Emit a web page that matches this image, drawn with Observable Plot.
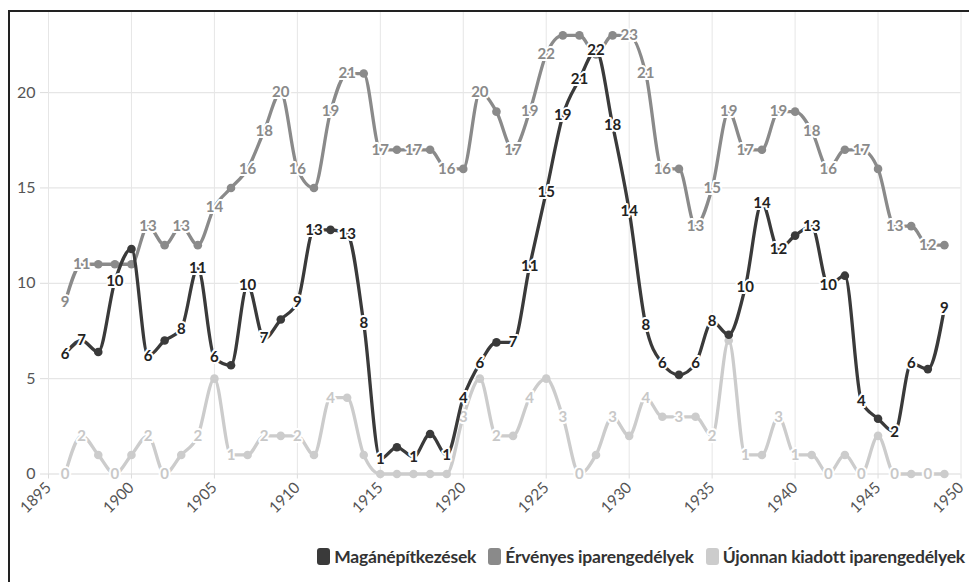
<!DOCTYPE html>
<html>
<head>
<meta charset="utf-8">
<script src="https://cdn.jsdelivr.net/npm/d3@7"></script>
<script src="https://cdn.jsdelivr.net/npm/@observablehq/plot@0.6"></script>
<style>
  html, body { margin: 0; padding: 0; background: #fff; }
  body { width: 969px; height: 582px; position: relative; overflow: hidden; font-family: Lato, "Noto Sans", sans-serif; }
  #frame { position: absolute; left: 8px; top: 10px; width: 980px; height: 600px; border-left: 2px solid #222; border-top: 2px solid #222; pointer-events: none; }
  #chart { position: absolute; left: 0; top: 0; }
  #legend { position: absolute; right: 4px; top: 546px; display: flex; gap: 12px; align-items: center; font-weight: 700; font-size: 17.5px; color: #333; white-space: nowrap; letter-spacing: -0.2px; }
  #legend .item { display: flex; align-items: center; gap: 4px; }
  #legend .sw { width: 13px; height: 17px; border-radius: 3px; display: inline-block; }
</style>
</head>
<body>
<div id="chart"></div>
<div id="frame"></div>
<div id="legend"></div>
<script>
const years = [1896,1897,1898,1899,1900,1901,1902,1903,1904,1905,1906,1907,1908,1909,1910,1911,1912,1913,1914,1915,1916,1917,1918,1919,1920,1921,1922,1923,1924,1925,1926,1927,1928,1929,1930,1931,1932,1933,1934,1935,1936,1937,1938,1939,1940,1941,1942,1943,1944,1945,1946,1947,1948,1949];

const seriesNames = ["Magánépítkezések", "Érvényes iparengedélyek", "Újonnan kiadott iparengedélyek"];
const seriesColors = ["#3a3a3a", "#8a8a8a", "#cccccc"];
const labelColors = ["#222222", "#8a8a8a", "#c8c8c8"];

const maganValues = [6.3,7.0,6.4,10.1,11.8,6.2,7.0,7.6,10.8,6.1,5.7,9.9,7.1,8.1,9.0,12.8,12.8,12.6,7.9,0.8,1.4,0.9,2.1,1.0,4.0,5.8,6.9,6.9,10.9,14.8,18.8,20.7,22.2,18.3,13.8,7.8,5.8,5.2,5.8,8.0,7.3,9.8,14.2,11.8,12.5,13.0,9.9,10.4,3.8,2.9,2.2,5.8,5.5,8.7];
const ervenyesValues = [9,11,11,11,11,13,12,13,12,14,15,16,18,20,16,15,19,21,21,17,17,17,17,16,16,20,19,17,19,22,23,23,22,23,23,21,16,16,13,15,19,17,17,19,19,18,16,17,17,16,13,13,12,12];
const ujonnanValues = [0,2,1,0,1,2,0,1,2,5,1,1,2,2,2,1,4,4,1,0,0,0,0,0,3,5,2,2,4,5,3,0,1,3,2,4,3,3,3,2,7,1,1,3,1,1,0,1,0,2,0,0,0,0];

// years whose value is written as a label (the others show a dot)
const maganLabelled = [1896,1897,1899,1901,1903,1904,1905,1907,1908,1910,1911,1913,1914,1915,1917,1919,1920,1921,1923,1924,1925,1926,1927,1928,1929,1930,1931,1932,1934,1935,1937,1938,1939,1941,1942,1944,1946,1947,1949];
const ervenyesLabelled = [1896,1897,1901,1903,1905,1907,1908,1909,1910,1912,1913,1915,1917,1919,1921,1923,1924,1925,1930,1931,1932,1934,1935,1936,1937,1939,1941,1942,1944,1946,1948];
const ujonnanLabelled = [1896,1897,1899,1901,1902,1904,1906,1908,1910,1912,1920,1922,1924,1926,1927,1929,1931,1933,1935,1937,1939,1940,1942,1944,1946,1948];

const xTicks = [1895,1900,1905,1910,1915,1920,1925,1930,1935,1940,1945,1950];
const yTicks = [0,5,10,15,20];

const allValues = [maganValues, ervenyesValues, ujonnanValues];
const allLabelled = [maganLabelled, ervenyesLabelled, ujonnanLabelled];

function rows(i) {
  return years.map((y, k) => ({year: y, value: allValues[i][k], labelled: allLabelled[i].includes(y)}));
}

const marks = [
  Plot.gridX(xTicks, {stroke: "#e6e6e6", strokeOpacity: 1, strokeWidth: 1}),
  Plot.gridY(yTicks, {stroke: "#e6e6e6", strokeOpacity: 1, strokeWidth: 1.3}),
  Plot.axisY(yTicks, {tickSize: 8, tickPadding: 5, stroke: "#dcdcdc", fill: "#555", fontSize: 16, label: null}),
  Plot.axisX(xTicks, {tickSize: 5, tickPadding: 6, tickRotate: -45, stroke: "#dcdcdc", fill: "#555", fontSize: 15.5, tickFormat: d => String(d), label: null})
];

// draw light first, dark last
for (const i of [2, 1, 0]) {
  const data = rows(i);
  marks.push(
    Plot.line(data, {x: "year", y: "value", stroke: seriesColors[i], strokeWidth: 3.3, curve: "monotone-x"}),
    Plot.dot(data.filter(d => !d.labelled), {x: "year", y: "value", r: 4.3, fill: seriesColors[i]}),
    Plot.text(data.filter(d => d.labelled), {x: "year", y: "value", text: d => String(Math.round(d.value)), fill: labelColors[i], stroke: "white", strokeWidth: 4, fontWeight: 700, fontSize: 15})
  );
}

const chart = Plot.plot({
  width: 969,
  height: 520,
  marginLeft: 48,
  marginRight: 8.5,
  marginTop: 12,
  marginBottom: 46.5,
  style: {fontFamily: "Lato, 'Noto Sans', sans-serif", background: "white"},
  x: {domain: [1895, 1950]},
  y: {domain: [0, 24.2]},
  marks
});
document.getElementById("chart").appendChild(chart);

const legend = document.getElementById("legend");
seriesNames.forEach((n, i) => {
  const it = document.createElement("span");
  it.className = "item";
  const sw = document.createElement("span");
  sw.className = "sw";
  sw.style.background = seriesColors[i];
  const t = document.createElement("span");
  t.textContent = n;
  it.appendChild(sw); it.appendChild(t);
  legend.appendChild(it);
});
</script>
</body>
</html>
